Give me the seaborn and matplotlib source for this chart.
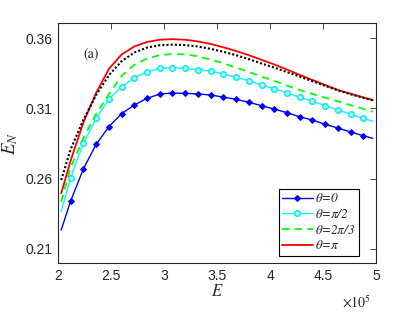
import matplotlib
matplotlib.use("Agg")
import matplotlib.pyplot as plt
import seaborn as sns
import pandas as pd

E = [2.03, 2.12, 2.24, 2.36, 2.48, 2.60, 2.72, 2.84, 2.96, 3.08, 3.20, 3.32, 3.44,
     3.56, 3.68, 3.80, 3.92, 4.04, 4.16, 4.28, 4.40, 4.52, 4.64, 4.76, 4.88, 4.97]

en_0 = [0.2234, 0.2443, 0.2670, 0.2844, 0.2969, 0.3062, 0.3124, 0.3171, 0.3202, 0.3209,
        0.3207, 0.3202, 0.3195, 0.3180, 0.3164, 0.3143, 0.3119, 0.3095, 0.3069, 0.3040,
        0.3017, 0.2986, 0.2960, 0.2932, 0.2905, 0.2887]
en_pi2 = [0.2365, 0.2607, 0.2853, 0.3029, 0.3164, 0.3254, 0.3318, 0.3360, 0.3384, 0.3389,
          0.3384, 0.3374, 0.3365, 0.3344, 0.3320, 0.3297, 0.3266, 0.3240, 0.3209, 0.3178,
          0.3152, 0.3119, 0.3090, 0.3058, 0.3029, 0.3008]
en_2pi3 = [0.2436, 0.2680, 0.2890, 0.3060, 0.3200, 0.3330, 0.3410, 0.3455, 0.3478, 0.3486,
           0.3484, 0.3470, 0.3447, 0.3421, 0.3389, 0.3360, 0.3326, 0.3295, 0.3262, 0.3230,
           0.3203, 0.3176, 0.3150, 0.3123, 0.3096, 0.3076]
en_pi = [0.2495, 0.2730, 0.3000, 0.3210, 0.3380, 0.3483, 0.3540, 0.3572, 0.3588, 0.3592,
         0.3588, 0.3576, 0.3558, 0.3534, 0.3508, 0.3478, 0.3445, 0.3412, 0.3376, 0.3338,
         0.3302, 0.3266, 0.3231, 0.3204, 0.3178, 0.3159]
en_dot = [0.2590, 0.2810, 0.3020, 0.3195, 0.3335, 0.3435, 0.3497, 0.3532, 0.3549, 0.3553,
          0.3550, 0.3540, 0.3523, 0.3502, 0.3478, 0.3450, 0.3419, 0.3390, 0.3358, 0.3326,
          0.3293, 0.3260, 0.3228, 0.3200, 0.3175, 0.3158]

labels = [r'$\theta$=0', r'$\theta$=$\pi$/2', r'$\theta$=2$\pi$/3', r'$\theta$=$\pi$']
x_ticks = [2, 2.5, 3, 3.5, 4, 4.5, 5]
y_ticks = [0.21, 0.26, 0.31, 0.36]

sns.set_style("white")
plt.rcParams['font.family'] = ['Liberation Sans', 'DejaVu Sans']
plt.rcParams['mathtext.fontset'] = 'stix'

fig = plt.figure(figsize=(4.15, 3.12), dpi=100)
ax = fig.add_axes([58/415, 1 - 263/312, (376-58)/415, (263-23)/312])

df = pd.DataFrame({'E': E, 'b': en_0, 'c': en_pi2, 'g': en_2pi3, 'r': en_pi, 'k': en_dot})
mk = list(range(1, 25))
sns.lineplot(data=df, x='E', y='b', ax=ax, color='#0000ff', lw=1.0, marker='D',
             markersize=3.0, markevery=mk, markerfacecolor='#0000ff', markeredgecolor='#0000ff',
             label=labels[0])
sns.lineplot(data=df, x='E', y='c', ax=ax, color='#00ffff', lw=1.0, marker='o',
             markersize=4.0, markevery=mk, markerfacecolor='#b0ffff', markeredgecolor='#00e5ee',
             markeredgewidth=1.0, label=labels[1])
sns.lineplot(data=df, x='E', y='g', ax=ax, color='#00ff00', lw=1.3, ls=(0, (4, 3)),
             label=labels[2])
sns.lineplot(data=df, x='E', y='r', ax=ax, color='#ff0000', lw=1.3, label=labels[3])
sns.lineplot(data=df, x='E', y='k', ax=ax, color='black', lw=1.5, ls=(0, (1, 1)),
             legend=False)

ax.set_xlim(2, 5)
ax.set_ylim(0.20, 0.3707)
ax.set_xticks(x_ticks)
ax.set_xticklabels([f'{t:g}' for t in x_ticks], fontfamily='Liberation Sans')
ax.set_yticks(y_ticks)
ax.set_yticklabels([f'{t:.2f}' for t in y_ticks], fontfamily='Liberation Sans')
ax.tick_params(direction='in', top=True, right=True, length=4, width=0.6,
               labelsize=10, colors='#262626', pad=4)
for s in ax.spines.values():
    s.set_linewidth(0.8)
    s.set_color('#262626')

ax.set_xlabel(r'$E$', fontsize=12, labelpad=0)
ax.set_ylabel(r'$E_N$', fontsize=13.5, labelpad=4)
ax.text(2.24, 0.349, '(a)', fontsize=10, family='STIXGeneral', va='center')
fig.text(357/415, 1 - 302/312, r'$\times 10^5$', fontsize=10, ha='center', va='center',
         color='#262626', family='Liberation Sans')

leg = ax.legend(loc='lower right', bbox_to_anchor=(0.955, 0.02),
                prop={'family': 'STIXGeneral', 'style': 'italic', 'size': 9.5},
                frameon=True, fancybox=False, edgecolor='black', framealpha=1,
                borderpad=0.25, labelspacing=0.2, handlelength=2.3, handletextpad=0.2,
                borderaxespad=0.2)
leg.get_frame().set_linewidth(0.8)

fig.savefig('out.png', dpi=100)
